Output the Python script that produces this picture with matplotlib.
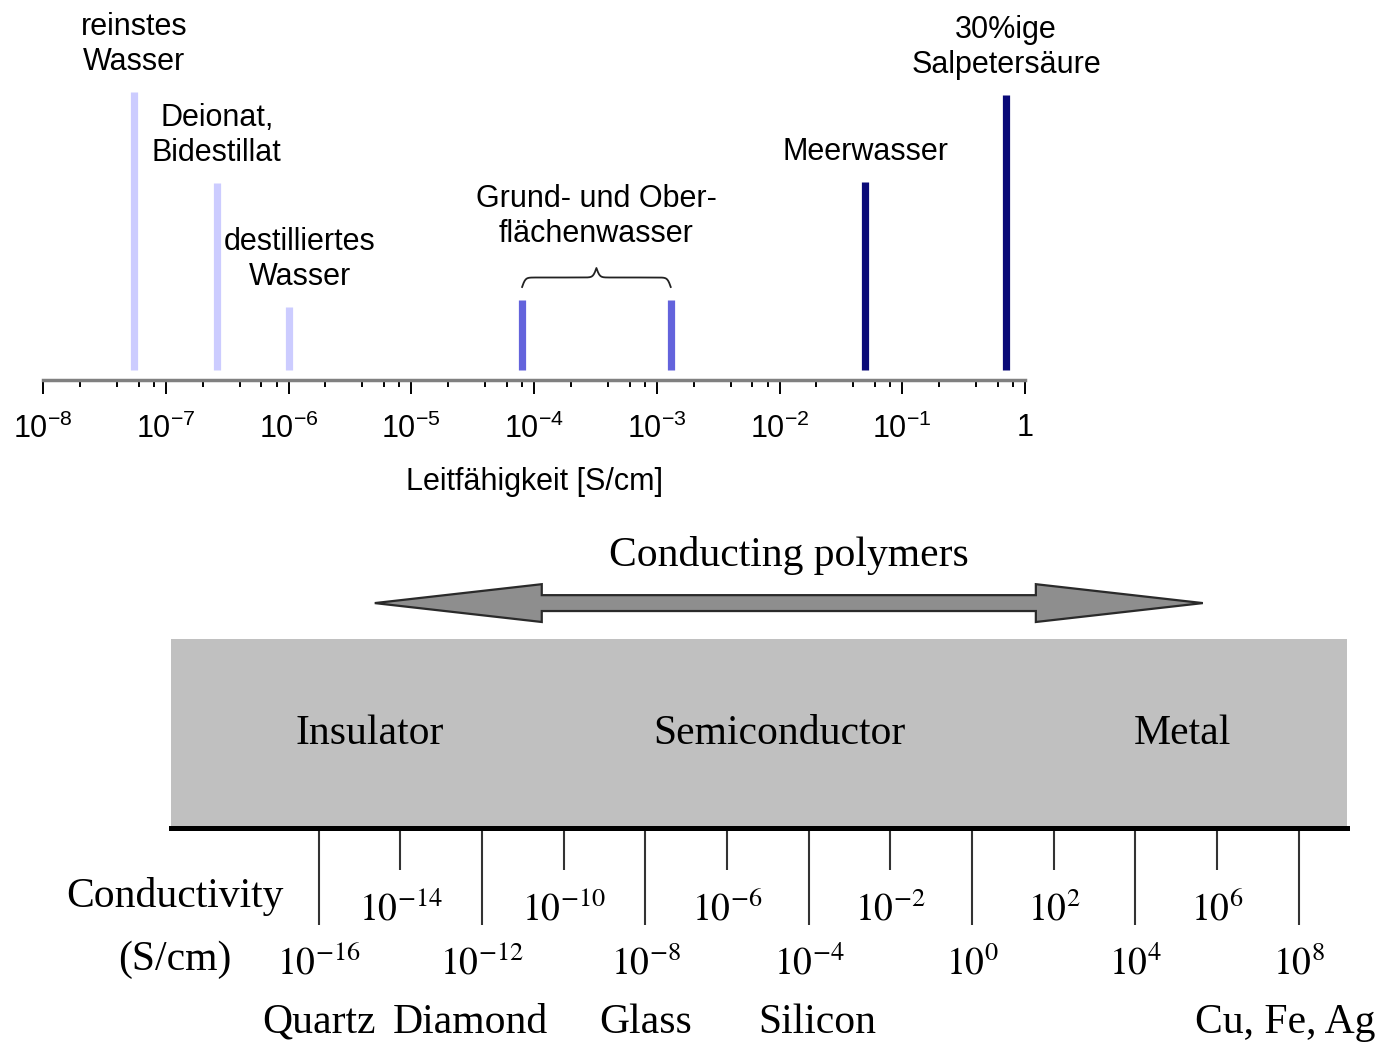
import numpy as np
import matplotlib
matplotlib.use("Agg")
import matplotlib.pyplot as plt
from matplotlib.patches import Polygon
from matplotlib.ticker import FixedLocator, FixedFormatter, NullFormatter

plt.rcParams["font.family"] = ["Liberation Sans", "DejaVu Sans"]
plt.rcParams["mathtext.fontset"] = "custom"
plt.rcParams["mathtext.rm"] = "Liberation Sans"
plt.rcParams["mathtext.it"] = "Liberation Sans:italic"
plt.rcParams["mathtext.bf"] = "Liberation Sans:bold"

# --- top panel: conductivity of water samples (S/cm) ---
water_labels = ["reinstes\nWasser", "Deionat,\nBidestillat", "destilliertes\nWasser",
                "Meerwasser", "30%ige\nSalpetersäure"]
water_sigma = [5.5e-8, 2.6e-7, 1.0e-6, 5.0e-2, 0.7]
water_heights = [288, 197, 73, 198, 285]
water_colors = ["#ccccff", "#ccccff", "#ccccff", "#0a0a78", "#0a0a78"]
ground_label = "Grund- und Ober-\nflächenwasser"
ground_sigma = [8e-5, 1.3e-3]
ground_height = 80
ground_color = "#6363dc"

top_ticks = [1e-8, 1e-7, 1e-6, 1e-5, 1e-4, 1e-3, 1e-2, 1e-1, 1]
top_ticklabels = [r"$10^{-8}$", r"$10^{-7}$", r"$10^{-6}$", r"$10^{-5}$", r"$10^{-4}$",
                  r"$10^{-3}$", r"$10^{-2}$", r"$10^{-1}$", "1"]
top_minor = [m * 10.0 ** e for e in range(-8, 0) for m in (2, 4, 6, 8)]

# --- bottom panel: conductivity classes ---
cond_major = [1e-16, 1e-12, 1e-8, 1e-4, 1e0, 1e4, 1e8]
cond_major_labels = [r"$10^{-16}$", r"$10^{-12}$", r"$10^{-8}$", r"$10^{-4}$",
                     r"$10^{0}$", r"$10^{4}$", r"$10^{8}$"]
cond_minor = [1e-14, 1e-10, 1e-6, 1e-2, 1e2, 1e6]
cond_minor_labels = [r"$10^{-14}$", r"$10^{-10}$", r"$10^{-6}$", r"$10^{-2}$",
                     r"$10^{2}$", r"$10^{6}$"]
regions = ["Insulator", "Semiconductor", "Metal"]
region_centers = [10 ** -14.75, 10 ** -4.71, 10 ** 5.16]
materials = ["Quartz", "Diamond", "Glass", "Silicon", "Cu, Fe, Ag"]
material_sigma = [1e-16, 10 ** -12.3, 1e-8, 10 ** -3.8, 10 ** 7.66]
polymer_range = [10 ** -14.63, 10 ** 5.65]

W, H = 1383, 1048
fig = plt.figure(figsize=(W / 100, H / 100), dpi=100)

# ================= top panel =================
ax = fig.add_axes([43 / W, (H - 380) / H, 982 / W, 380 / H])
ax.set_xscale("log")
ax.set_xlim(1e-8, 1)
ax.set_ylim(0, 380)
for s in ("top", "left", "right"):
    ax.spines[s].set_visible(False)
ax.spines["bottom"].set_color("#808080")
ax.spines["bottom"].set_linewidth(2.5)
ax.patch.set_alpha(0)
ax.set_yticks([])

ax.xaxis.set_major_locator(FixedLocator(top_ticks))
ax.xaxis.set_major_formatter(FixedFormatter(top_ticklabels))
ax.xaxis.set_minor_locator(FixedLocator(top_minor))
ax.xaxis.set_minor_formatter(NullFormatter())
ax.tick_params(axis="x", which="major", length=10, width=1.4, color="black",
               direction="out", pad=14, labelsize=22)
ax.tick_params(axis="x", which="minor", length=5, width=1.4, color="black",
               direction="out")
ax.set_xlabel("Leitfähigkeit [S/cm]", fontsize=22, labelpad=16)

ax.vlines(water_sigma, 10, water_heights, colors=water_colors, linewidth=5.2)
ax.vlines(ground_sigma, 10, ground_height, colors=ground_color, linewidth=5.2)

offsets_x = [0, 0, 8, 0, 0]
for lab, s, h, dx in zip(water_labels, water_sigma, water_heights, offsets_x):
    ax.annotate(lab, xy=(s, h), xytext=(dx, 11), textcoords="offset points",
                ha="center", va="bottom", fontsize=22, linespacing=1.22)

# curly brace over the ground / surface water range
lx0, lx1 = np.log10(ground_sigma[0]), np.log10(ground_sigma[1])
half = np.linspace(0, 0.5, 150)
beta = 90
yh = 1 / (1 + np.exp(-beta * (half - half[0]))) + 1 / (1 + np.exp(-beta * (half - half[-1])))
yb = np.concatenate((yh, yh[-2::-1]))
tb = np.linspace(0, 1, len(yb))
yb = 93 + (yb - yb.min()) / (yb.max() - yb.min()) * 19
ax.plot(10 ** (lx0 + (lx1 - lx0) * tb), yb, color="#222222", lw=1.3, clip_on=False)
ax.text(10 ** ((lx0 + lx1) / 2), 131, ground_label, ha="center", va="bottom",
        fontsize=22, linespacing=1.22)

# ================= bottom panel =================
serif = ["Liberation Serif", "DejaVu Serif"]
ax2 = fig.add_axes([171 / W, (H - 828) / H, (1347 - 171) / W, (828 - 639) / H])
ax2.set_facecolor("#c0c0c0")
ax2.set_xscale("log")
ax2.set_xlim(10 ** -19.62, 10 ** 9.18)
ax2.set_ylim(0, 1)
ax2.set_yticks([])
for s in ("top", "left", "right"):
    ax2.spines[s].set_visible(False)
ax2.spines["bottom"].set_color("black")
ax2.spines["bottom"].set_linewidth(3.6)

ax2.xaxis.set_major_locator(FixedLocator(cond_major))
ax2.xaxis.set_minor_locator(FixedLocator(cond_minor))
ax2.set_xticklabels(cond_major_labels, math_fontfamily="stix", fontsize=27)
ax2.set_xticklabels(cond_minor_labels, minor=True, math_fontfamily="stix", fontsize=27)
ax2.tick_params(axis="x", which="major", length=70, width=1.5, color="#333333",
                direction="out", pad=15)
ax2.tick_params(axis="x", which="minor", length=30, width=1.5, color="#333333",
                direction="out", pad=16)

for name, c in zip(regions, region_centers):
    ax2.text(c, 0.50, name, ha="center", va="center", fontsize=30, family=serif)

xt = ax2.get_xaxis_transform()
for name, s in zip(materials, material_sigma):
    ax2.text(s, -1.03, name, ha="center", va="center", fontsize=30, family=serif,
             transform=xt, clip_on=False)

ax2.text(0.0034, -0.36, "Conductivity", ha="center", va="center", fontsize=30,
         family=serif, transform=ax2.transAxes)
ax2.text(0.0034, -0.695, "(S/cm)", ha="center", va="center", fontsize=30,
         family=serif, transform=ax2.transAxes)

# double arrow for conducting polymers
la, lb = np.log10(polymer_range[0]), np.log10(polymer_range[1])
head = 4.09
yc, hh, sh = 1.19, 0.10, 0.042
xs = [la, la + head, la + head, lb - head, lb - head, lb, lb - head, lb - head,
      la + head, la + head]
ys = [yc, yc + hh, yc + sh, yc + sh, yc + hh, yc, yc - hh, yc - sh, yc - sh, yc - hh]
arrow = Polygon(np.column_stack([10 ** np.array(xs), ys]), closed=True,
                facecolor="#8e8e8e", edgecolor="#2a2a2a", linewidth=1.6,
                transform=xt, clip_on=False)
ax2.add_patch(arrow)
ax2.text(10 ** ((la + lb) / 2), 1.44, "Conducting polymers", ha="center", va="center",
         fontsize=30, family=serif, transform=xt)

fig.savefig("out.png", dpi=100)
